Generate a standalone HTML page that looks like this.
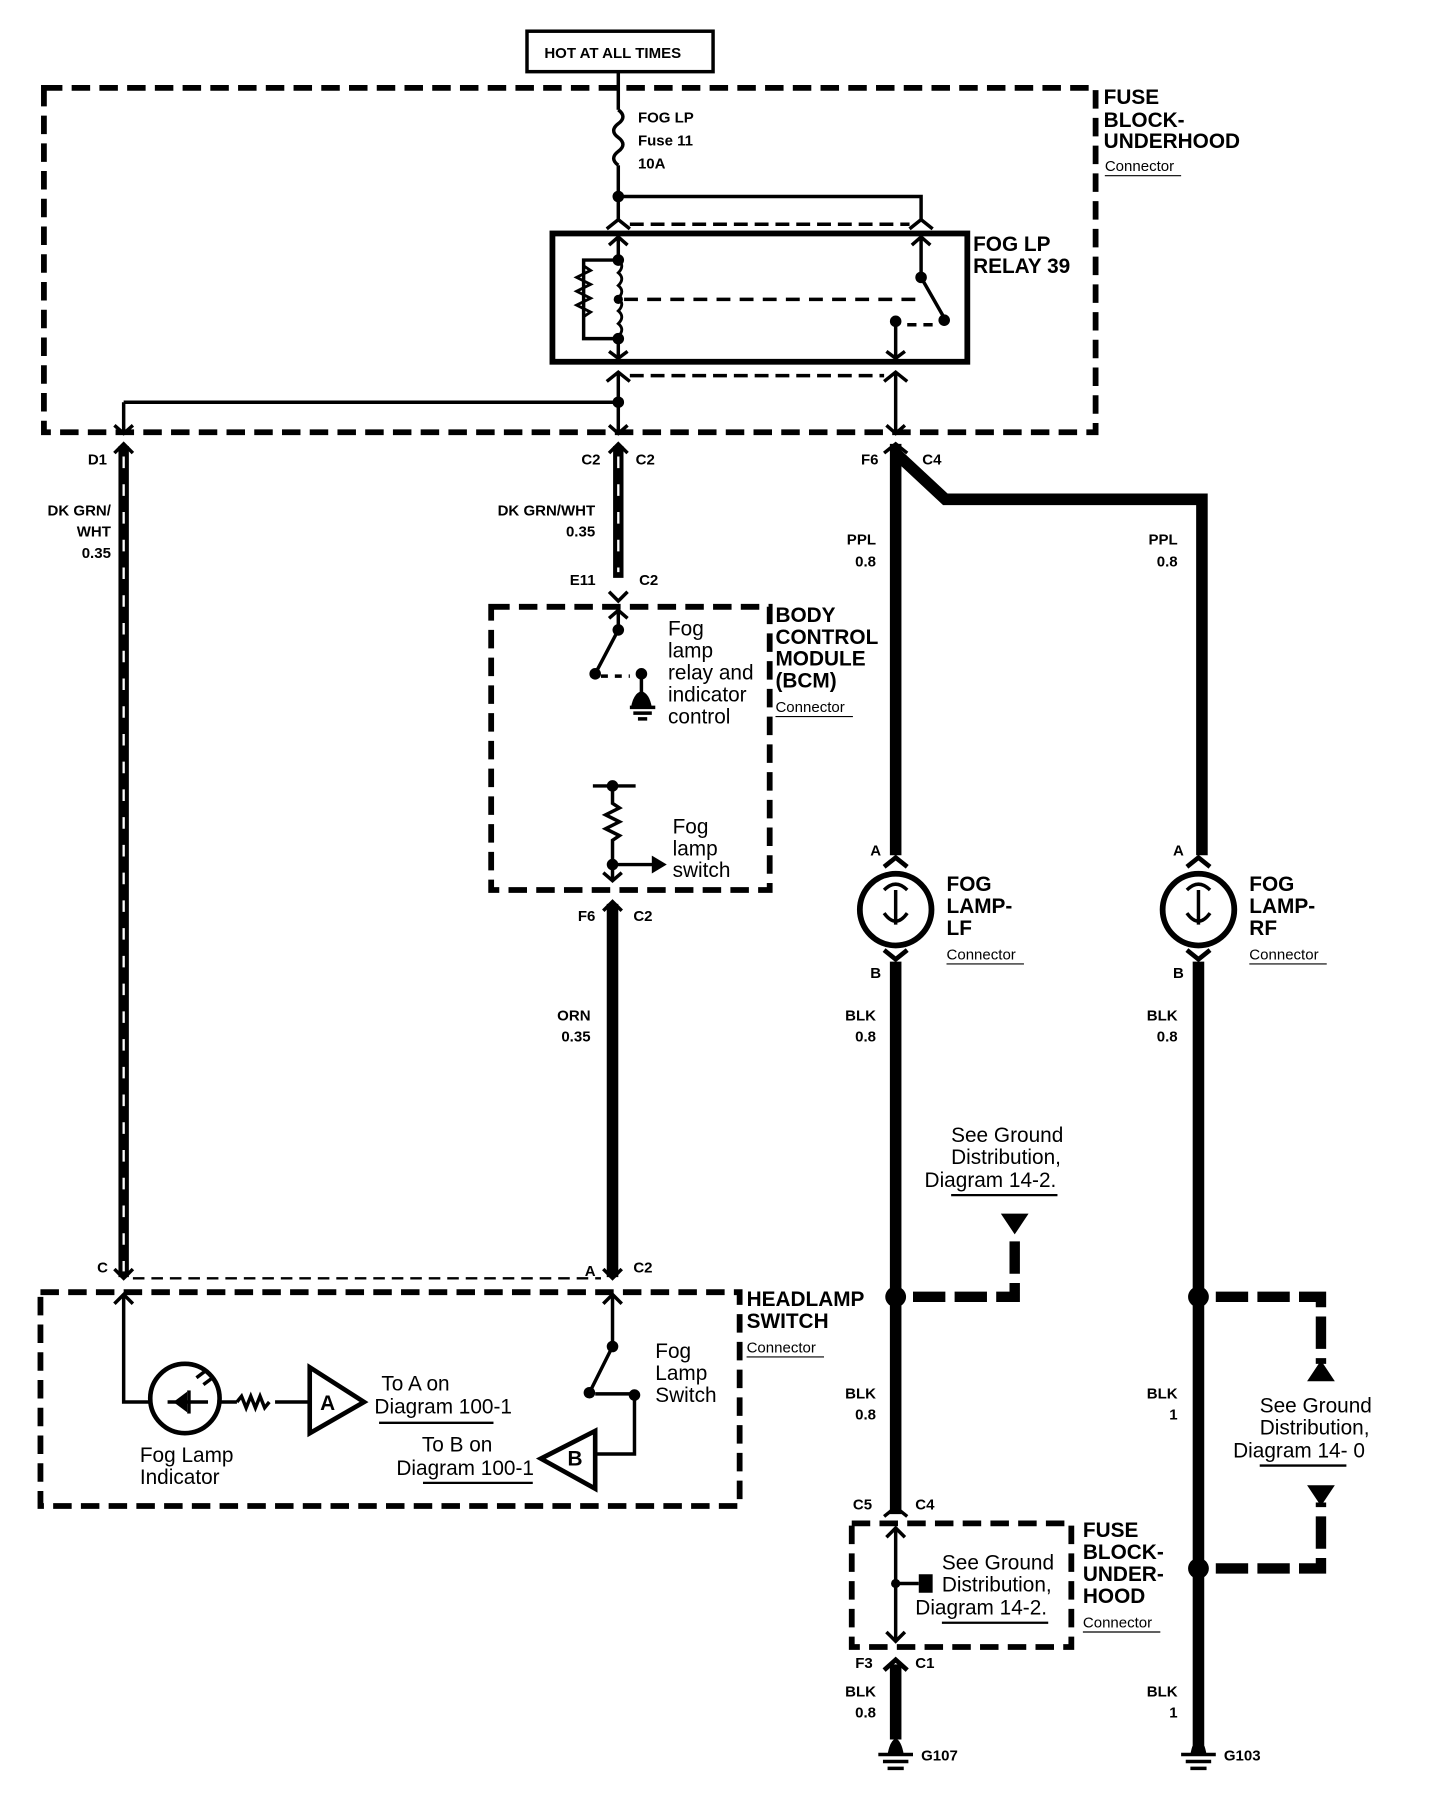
<!DOCTYPE html>
<html><head><meta charset="utf-8"><style>
html,body{margin:0;padding:0;background:#fff}
svg{display:block}
text{font-family:"Liberation Sans",Arial,sans-serif;fill:#000}
.b{font-weight:bold}
.s{font-size:13px;font-weight:bold}
.L{font-size:18px;font-weight:bold}
.n{font-size:18px}
.c{font-size:13px}
</style></head><body>
<svg width="1440" height="1810" viewBox="0 0 1246 1566" preserveAspectRatio="none" xmlns="http://www.w3.org/2000/svg">
<g fill="none" stroke="#000">
<rect x="456" y="27" width="161" height="35" stroke-width="3"/>
<rect x="38" y="76" width="910" height="298" stroke-width="5" stroke-dasharray="16,8"/>
<line x1="535" y1="62" x2="535" y2="95" stroke-width="3"/>
<path d="M535 95 q8 6 0 12 q-8 6 0 12 q8 6 0 12 q-8 6 0 12" stroke-width="3"/>
<line x1="535" y1="143" x2="535" y2="190" stroke-width="3"/>
<path d="M535 170 H797 V190" stroke-width="3"/>
<path d="M525 198 L535 190 L545 198 M787 198 L797 190 L807 198" stroke-width="3"/>
<line x1="545" y1="194" x2="787" y2="194" stroke-width="3" stroke-dasharray="12,6"/>
<rect x="478" y="202" width="359" height="111" stroke-width="5"/>
<path d="M535 205 V225 M527 212 L535 205 L543 212" stroke-width="3"/>
<path d="M535 225 H505 V293 H535" stroke-width="3"/>
<path d="M505 230 l6 4 -12 6 12 6 -12 6 12 6 -12 6 12 6 -6 4" stroke-width="2.5"/>
<path d="M535 225 q6 5 0 11 q6 5 0 11 q6 5 0 11 q6 5 0 11 q6 5 0 11 q6 5 0 11" stroke-width="2.5"/>
<path d="M535 293 V310 M527 304 L535 310 L543 304" stroke-width="3"/>
<line x1="540" y1="259" x2="800" y2="259" stroke-width="3" stroke-dasharray="12,8"/>
<path d="M797 205 V240 L817 275 M789 212 L797 205 L805 212" stroke-width="3"/>
<path d="M775 278 V310 M767 304 L775 310 L783 304" stroke-width="3"/>
<line x1="785" y1="281" x2="812" y2="281" stroke-width="3" stroke-dasharray="8,6"/>
<path d="M525 330 L535 322 L545 330 M765 330 L775 322 L785 330" stroke-width="3"/>
<line x1="545" y1="325" x2="765" y2="325" stroke-width="3" stroke-dasharray="12,6"/>
<path d="M535 322 V375 M775 322 V375" stroke-width="3"/>
<path d="M107 348 H535 M107 348 V375" stroke-width="3"/>
<path d="M527 368 L535 375 L543 368 M767 368 L775 375 L783 368 M99 368 L107 375 L115 368" stroke-width="3"/>
<path d="M99 392 L107 384 L115 392 M527 392 L535 384 L543 392" stroke-width="3"/>
<line x1="107" y1="386" x2="107" y2="1105" stroke-width="9"/>
<line x1="107" y1="395" x2="107" y2="1100" stroke="#fff" stroke-width="2" stroke-dasharray="10,14"/>
<line x1="535" y1="386" x2="535" y2="500" stroke-width="9"/>
<line x1="535" y1="395" x2="535" y2="495" stroke="#fff" stroke-width="2" stroke-dasharray="10,14"/>
<path d="M775 384 V740 M775 392 L818 432 H1040 V740" stroke-width="10"/>
<path d="M765 392 L775 384 L785 392" stroke-width="3"/>
<path d="M527 512 L535 520 L543 512" stroke-width="3"/>
<rect x="425" y="525" width="241" height="245" stroke-width="5" stroke-dasharray="16,8"/>
<path d="M535 528 V545 L515 583 M527 535 L535 528 L543 535" stroke-width="3"/>
<line x1="520" y1="585" x2="545" y2="585" stroke-width="3" stroke-dasharray="6,6"/>
<path d="M555 583 V600 M545 612 H567 M548 617 H564 M552 622 H560" stroke-width="3"/>
<path d="M513 680 H550 M530 680 V695 l6 4 -12 6 12 6 -12 6 12 6 -6 4 V762 M530 748 H565 M522 755 L530 762 L538 755" stroke-width="3"/>
<path d="M565 742 L575 748 L565 754 Z" fill="#000" stroke-width="2"/>
<path d="M522 788 L530 780 L538 788" stroke-width="3"/>
<line x1="530" y1="782" x2="530" y2="1105" stroke-width="10"/>
<circle cx="775" cy="787" r="31" stroke-width="5"/>
<circle cx="1037" cy="787" r="31" stroke-width="5"/>
<path d="M765 750 L775 742 L785 750 M1027 750 L1037 742 L1047 750 M765 822 L775 830 L785 822 M1027 822 L1037 830 L1047 822" stroke-width="4"/>
<path d="M765 770 q10 -10 20 0 M775 770 V800 M765 790 q10 14 20 0 M1027 770 q10 -10 20 0 M1037 770 V800 M1027 790 q10 14 20 0" stroke-width="3"/>
<line x1="775" y1="832" x2="775" y2="1310" stroke-width="10"/>
<line x1="1037" y1="832" x2="1037" y2="1510" stroke-width="10"/>
<path d="M790 1122 H878 V1072" stroke-width="9" stroke-dasharray="28,8"/>
<path d="M1052 1122 H1143 V1180" stroke-width="9" stroke-dasharray="28,8"/>
<path d="M1052 1357 H1143 V1300" stroke-width="9" stroke-dasharray="28,8"/>
<rect x="35" y="1118" width="605" height="185" stroke-width="5" stroke-dasharray="16,8"/>
<line x1="115" y1="1106" x2="520" y2="1106" stroke-width="2" stroke-dasharray="10,6"/>
<path d="M99 1098 L107 1106 L115 1098 M522 1098 L530 1106 L538 1098 M99 1128 L107 1120 L115 1128 M522 1128 L530 1120 L538 1128" stroke-width="3"/>
<path d="M107 1122 V1213 H130 M188 1213 H205 M238 1213 H268" stroke-width="3"/>
<circle cx="160" cy="1210" r="30" stroke-width="4"/>
<path d="M145 1213 H180" stroke-width="3"/>
<path d="M205 1213 l4 -5 4 10 4 -10 4 10 4 -10 4 10 4 -5" stroke-width="3"/>
<path d="M268 1183 L315 1213 L268 1240 Z" stroke-width="4"/>
<path d="M515 1238 L468 1262 L515 1288 Z" stroke-width="4"/>
<path d="M530 1122 V1165 L510 1205 M515 1206 H545 M549 1208 V1258 H515" stroke-width="3"/>
<rect x="737" y="1318" width="190" height="107" stroke-width="5" stroke-dasharray="16,8"/>
<path d="M765 1312 L775 1304 L785 1312" stroke-width="3"/>
<path d="M775 1322 V1420 M767 1330 L775 1322 L783 1330 M767 1412 L775 1420 L783 1412 M775 1370 H795" stroke-width="3"/>
<path d="M765 1445 L775 1436 L785 1445" stroke-width="4"/>
<line x1="775" y1="1440" x2="775" y2="1505" stroke-width="10"/>
<path d="M760 1518 H790 M764 1524 H786 M768 1530 H782 M1022 1518 H1052 M1026 1524 H1048 M1030 1530 H1044" stroke-width="3"/>
</g>
<g fill="#000">
<circle cx="535" cy="170" r="5"/><circle cx="535" cy="225" r="5"/><circle cx="535" cy="293" r="5"/><circle cx="535" cy="259" r="4"/><circle cx="535" cy="348" r="5"/>
<circle cx="797" cy="240" r="5"/><circle cx="817" cy="277" r="5"/><circle cx="775" cy="278" r="5"/>
<circle cx="535" cy="545" r="5"/><circle cx="515" cy="583" r="5"/><circle cx="555" cy="583" r="5"/>
<path d="M546 612 Q548 600 555 598 Q562 600 564 612 Z"/>
<circle cx="530" cy="680" r="5"/><circle cx="530" cy="748" r="5"/>
<circle cx="775" cy="1122" r="9"/><circle cx="1037" cy="1122" r="9"/><circle cx="1037" cy="1357" r="9"/>
<path d="M866 1050 H890 L878 1068 Z"/><path d="M1131 1195 H1155 L1143 1177 Z"/><path d="M1131 1285 H1155 L1143 1303 Z"/>
<circle cx="775" cy="1370" r="4"/><path d="M795 1362 L807 1362 L807 1378 L795 1378 Z"/>
<path d="M768 1518 Q770 1506 775 1504 Q780 1506 782 1518 Z"/><path d="M1030 1518 Q1032 1506 1037 1504 Q1042 1506 1044 1518 Z"/>
<circle cx="530" cy="1165" r="5"/><circle cx="510" cy="1205" r="5"/><circle cx="549" cy="1207" r="5"/>
<path d="M150 1213 L162 1204 V1222 Z"/><rect x="162" y="1203" width="3" height="20"/>
<path d="M170 1192 l8 -6 M176 1198 l8 -6" stroke="#000" stroke-width="3"/>
</g>
<text x="471" y="50" class="s">HOT AT ALL TIMES</text>
<text x="955" y="90" class="L">FUSE</text><text x="955" y="110" class="L">BLOCK-</text><text x="955" y="128" class="L">UNDERHOOD</text>
<text x="956" y="148" class="c">Connector</text><line x1="956" y1="152" x2="1022" y2="152" stroke="#000"/>
<text x="552" y="106" class="s">FOG LP</text><text x="552" y="126" class="s">Fuse 11</text><text x="552" y="146" class="s">10A</text>
<text x="842" y="217" class="L">FOG LP</text><text x="842" y="236" class="L">RELAY 39</text>
<text x="76" y="402" class="s">D1</text>
<text x="503" y="402" class="s">C2</text><text x="550" y="402" class="s">C2</text>
<text x="745" y="402" class="s">F6</text><text x="798" y="402" class="s">C4</text>
<text x="96" y="446" class="s" text-anchor="end">DK GRN/</text><text x="96" y="464" class="s" text-anchor="end">WHT</text><text x="96" y="483" class="s" text-anchor="end">0.35</text>
<text x="515" y="446" class="s" text-anchor="end">DK GRN/WHT</text><text x="515" y="464" class="s" text-anchor="end">0.35</text>
<text x="758" y="471" class="s" text-anchor="end">PPL</text><text x="758" y="490" class="s" text-anchor="end">0.8</text>
<text x="1019" y="471" class="s" text-anchor="end">PPL</text><text x="1019" y="490" class="s" text-anchor="end">0.8</text>
<text x="493" y="506" class="s">E11</text><text x="553" y="506" class="s">C2</text>
<text x="671" y="538" class="L">BODY</text><text x="671" y="557" class="L">CONTROL</text><text x="671" y="576" class="L">MODULE</text><text x="671" y="595" class="L">(BCM)</text>
<text x="671" y="616" class="c">Connector</text><line x1="671" y1="620" x2="738" y2="620" stroke="#000"/>
<text x="578" y="550" class="n">Fog</text><text x="578" y="569" class="n">lamp</text><text x="578" y="588" class="n">relay and</text><text x="578" y="607" class="n">indicator</text><text x="578" y="626" class="n">control</text>
<text x="582" y="721" class="n">Fog</text><text x="582" y="740" class="n">lamp</text><text x="582" y="759" class="n">switch</text>
<text x="500" y="797" class="s">F6</text><text x="548" y="797" class="s">C2</text>
<text x="753" y="740" class="s">A</text><text x="1015" y="740" class="s">A</text>
<text x="753" y="846" class="s">B</text><text x="1015" y="846" class="s">B</text>
<text x="819" y="771" class="L">FOG</text><text x="819" y="790" class="L">LAMP-</text><text x="819" y="809" class="L">LF</text>
<text x="819" y="830" class="c">Connector</text><line x1="819" y1="834" x2="886" y2="834" stroke="#000"/>
<text x="1081" y="771" class="L">FOG</text><text x="1081" y="790" class="L">LAMP-</text><text x="1081" y="809" class="L">RF</text>
<text x="1081" y="830" class="c">Connector</text><line x1="1081" y1="834" x2="1148" y2="834" stroke="#000"/>
<text x="511" y="883" class="s" text-anchor="end">ORN</text><text x="511" y="901" class="s" text-anchor="end">0.35</text>
<text x="758" y="883" class="s" text-anchor="end">BLK</text><text x="758" y="901" class="s" text-anchor="end">0.8</text>
<text x="1019" y="883" class="s" text-anchor="end">BLK</text><text x="1019" y="901" class="s" text-anchor="end">0.8</text>
<text x="823" y="988" class="n">See Ground</text><text x="823" y="1007" class="n">Distribution,</text><text x="800" y="1027" class="n">Diagram 14-2.</text>
<line x1="823" y1="1034" x2="915" y2="1034" stroke="#000" stroke-width="2"/>
<text x="84" y="1101" class="s">C</text><text x="506" y="1104" class="s">A</text><text x="548" y="1101" class="s">C2</text>
<text x="646" y="1130" class="L">HEADLAMP</text><text x="646" y="1149" class="L">SWITCH</text>
<text x="646" y="1170" class="c">Connector</text><line x1="646" y1="1174" x2="713" y2="1174" stroke="#000"/>
<text x="567" y="1175" class="n">Fog</text><text x="567" y="1194" class="n">Lamp</text><text x="567" y="1213" class="n">Switch</text>
<text x="330" y="1203" class="n">To A on</text><text x="324" y="1223" class="n">Diagram 100-1</text>
<line x1="328" y1="1231" x2="427" y2="1231" stroke="#000" stroke-width="2"/>
<text x="365" y="1256" class="n">To B on</text><text x="343" y="1276" class="n">Diagram 100-1</text>
<line x1="366" y1="1283" x2="461" y2="1283" stroke="#000" stroke-width="2"/>
<text x="277" y="1220" class="L">A</text><text x="491" y="1268" class="L">B</text>
<text x="121" y="1265" class="n">Fog Lamp</text><text x="121" y="1284" class="n">Indicator</text>
<text x="758" y="1210" class="s" text-anchor="end">BLK</text><text x="758" y="1228" class="s" text-anchor="end">0.8</text>
<text x="1019" y="1210" class="s" text-anchor="end">BLK</text><text x="1019" y="1228" class="s" text-anchor="end">1</text>
<text x="1090" y="1222" class="n">See Ground</text><text x="1090" y="1241" class="n">Distribution,</text><text x="1067" y="1261" class="n">Diagram 14- 0</text>
<line x1="1090" y1="1268" x2="1165" y2="1268" stroke="#000" stroke-width="2"/>
<text x="738" y="1306" class="s">C5</text><text x="792" y="1306" class="s">C4</text>
<text x="937" y="1330" class="L">FUSE</text><text x="937" y="1349" class="L">BLOCK-</text><text x="937" y="1368" class="L">UNDER-</text><text x="937" y="1387" class="L">HOOD</text>
<text x="937" y="1408" class="c">Connector</text><line x1="937" y1="1412" x2="1004" y2="1412" stroke="#000"/>
<text x="815" y="1358" class="n">See Ground</text><text x="815" y="1377" class="n">Distribution,</text><text x="792" y="1397" class="n">Diagram 14-2.</text>
<line x1="815" y1="1404" x2="907" y2="1404" stroke="#000" stroke-width="2"/>
<text x="740" y="1443" class="s">F3</text><text x="792" y="1443" class="s">C1</text>
<text x="758" y="1468" class="s" text-anchor="end">BLK</text><text x="758" y="1486" class="s" text-anchor="end">0.8</text>
<text x="1019" y="1468" class="s" text-anchor="end">BLK</text><text x="1019" y="1486" class="s" text-anchor="end">1</text>
<text x="797" y="1523" class="s">G107</text><text x="1059" y="1523" class="s">G103</text>
</svg>
</body></html>
